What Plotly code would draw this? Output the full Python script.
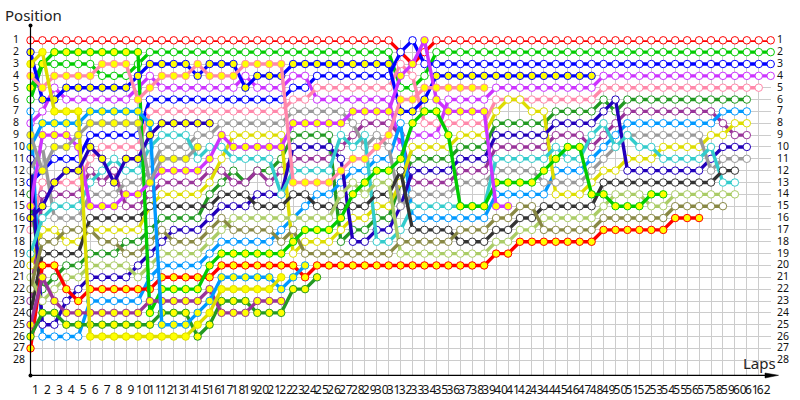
import plotly.graph_objects as go

# ---------- data: position per lap, index = lap number (0 = grid) ----------
rows = list(range(1, 29))
lap_labels = list(range(1, 63))
laps_all = list(range(0, 63))

red_w = [1,1,1,1,1,1,1,1,1,1, 1,1,1,1,1,1,1,1,1,1, 1,1,1,1,1,1,1,1,1,1, 1,2,3,2,1,1,1,1,1,1, 1,1,1,1,1,1,1,1,1,1, 1,1,1,1,1,1,1,1,1,1, 1,1,1]
green_w = [6,3,3,3,3,3,4,4,4,3, 2,2,2,2,2,2,2,2,2,2, 2,2,2,2,2,2,2,2,2,2, 2,5,5,4,2,2,2,2,2,2, 2,2,2,2,2,2,2,2,2,2, 2,2,2,2,2,2,2,2,2,2, 2,2,2]
blue_w = [13,12,11,11,11,9,9,9,9,9, 6,6,6,6,6,6,6,6,6,6, 6,6,5,5,4,4,4,4,4,4, 4,2,1,3,3,3,3,3,3,3, 3,3,3,3,3,3,3,3,3,3, 3,3,3,3,3,3,3,3,3,3, 3,3,3]
violet_w = [8,7,5,6,6,6,6,6,6,5, 4,5,5,5,5,5,5,5,4,5, 5,5,4,4,6,6,6,6,6,6, 6,10,9,9,9,6,6,6,6,5, 5,5,5,5,5,5,5,5,4,4, 4,4,4,4,4,4,4,4,4,4, 4,4,4]
pink_w = [17,13,13,13,13,11,10,10,10,10, 7,7,7,7,7,7,7,7,7,7, 7,7,6,6,5,5,5,5,5,5, 5,3,4,8,8,8,8,8,8,6, 6,6,6,6,6,6,6,6,5,5, 5,5,5,5,5,5,5,5,5,5, 5,5]
dkgreen_w = [14,22,21,20,20,19,19,19,18,18, 17,16,16,16,16,14,13,12,13,12, 12,11,9,9,9,9,18,17,17,16, 16,13,11,11,11,11,10,10,10,8, 8,8,8,8,7,7,7,7,6,7, 6,6,6,6,6,6,6,6,6,6, 6]
purple_w = [23,14,14,14,14,12,13,12,15,15, 14,13,13,13,13,12,12,13,13,12, 13,12,11,11,11,11,10,9,8,8, 8,9,13,13,13,13,12,12,12,10, 10,10,10,10,9,9,9,10,9,8, 7,7,7,7,7,7,7,7,8,9, 9]
azure_w = [7,26,26,26,26,23,23,23,23,23, 21,20,20,20,20,19,18,18,18,18, 18,17,16,15,14,14,13,12,12,11, 11,8,16,16,16,16,16,16,16,14, 14,14,14,14,12,12,12,11,10,9, 8,8,8,8,8,8,8,8,7,7, 7]
yellow_w = [20,17,17,18,18,17,17,17,17,17, 15,14,14,14,14,13,11,9,9,9, 9,9,19,18,18,18,17,16,16,15, 15,13,10,10,10,10,9,9,9,7, 6,6,7,7,14,14,14,13,12,12, 11,11,11,10,10,10,10,9,9,8, 8]
dkblue_w = [11,25,25,23,22,21,21,21,21,20, 19,18,17,17,17,16,15,15,15,14, 14,14,10,10,10,10,11,18,18,17, 17,15,12,12,12,12,11,11,11,9, 9,9,9,9,8,8,8,8,7,6, 12,12,12,12,12,12,12,11,10,10, 10]
gray_w = [12,10,16,16,16,14,14,14,13,13, 12,10,10,10,9,9,8,8,8,8, 8,8,7,7,7,7,7,8,10,9, 10,15,14,14,14,14,13,13,13,12, 12,12,12,13,13,13,13,12,11,10, 9,9,9,9,9,9,9,12,11,11, 11]
cyan_w = [19,16,15,15,15,13,12,11,12,12, 10,9,9,9,11,10,10,11,11,11, 11,14,12,12,12,12,9,10,9,18, 18,17,15,15,15,15,15,15,15,11, 11,11,11,11,10,11,11,9,8,10, 9,10,10,11,11,11,11,10,13,13]
black_w = [24,19,19,19,19,16,16,16,16,16, 15,15,15,15,15,15,14,14,14,15, 15,15,14,14,15,15,15,15,15,14, 14,12,17,17,17,17,18,18,18,17, 17,16,16,15,15,15,15,15,13,13, 13,13,13,13,13,13,13,13,12,12]
ltolive_w = [21,23,22,21,21,20,20,20,20,21, 20,19,19,19,19,18,17,16,16,16, 16,16,16,16,16,16,14,13,14,13, 13,19,19,19,19,19,19,19,19,18, 18,17,17,16,16,16,16,16,15,14, 14,14,15,15,14,14,14,14,14,14]
olive_w = [22,18,18,17,17,17,18,18,19,19, 18,17,18,18,18,17,16,17,17,17, 17,18,17,19,19,19,19,19,19,19, 19,18,18,18,18,18,17,17,17,16, 16,15,15,17,17,17,17,17,16,16, 16,16,16,16,15,15,15,15,15]

red_y = [27,20,20,22,23,22,22,22,22,22, 22,21,21,21,21,21,20,20,20,20, 20,20,20,21,20,20,20,20,20,20, 20,20,20,20,20,20,20,20,20,19, 19,18,18,18,18,18,18,18,17,17, 17,17,17,17,16,16,16]
green_y = [5,3,2,2,2,2,2,2,2,2, 24,22,22,22,22,20,19,19,19,19, 19,19,18,17,17,17,16,14,13,12, 12,11,8,7,7,9,15,15,15,13, 13,13,13,12,11,10,10,14,14,15, 15,15,14,14]
blue_y = [2,6,6,5,5,5,5,5,5,4, 3,3,3,3,4,3,3,3,5,4, 4,4,3,3,3,3,3,3,3,3, 3,7,7,6,4,4,4,4,4,4, 4,4,4,4,4,4,4,4]
violet_y = [15,9,9,9,10,15,15,15,14,14, 13,12,12,12,12,11,9,10,10,10, 10,10,8,8,8,8,8,7,7,7, 7,4,3,1,6,7,7,7,7,15, 15]
pink_y = [4,5,4,4,4,4,3,3,3,6, 5,4,4,4,3,4,4,4,3,3, 3,3,13,13,13,13,12,11,11,10, 9,6,6,5,5,5,5,5,5]
dkgreen_y = [26,24,24,25,25,25,25,25,25,25, 25,24,24,24,26,25,23,23,23,24, 24,24,22,22,21]
purple_y = [25,21,23,24,24,24,24,24,24,24, 23,23,23,23,23,22,24,24,24,23, 23,23]
azure_y = [10,8,8,8,8,7,7,7,7,7, 8,25,25,25,24,23,21,21,21,21, 21,22,21,20]
yellow_y = [3,2,7,7,7,26,26,26,26,26, 26,26,26,26,25,24,22,22,22,22, 22,21]
dkblue_y = [16,15,13,12,12,10,11,13,11,11, 9,8,8,8,8,8]
gray_y = [9,12,10,10,9,8,8,8,8,8, 13,11,11,11,10]

# ---------- styles ----------
RED, GREEN, BLUE, VIOLET, PINK = "#ff0000", "#00cc00", "#0000ff", "#cc33ff", "#ff88aa"
DKGREEN, PURPLE, AZURE, YELLOW, DKBLUE = "#229922", "#993399", "#0099ff", "#dddd00", "#2200bb"
GRAY, CYAN, BLACK, LTOLIVE, OLIVE = "#999999", "#33cccc", "#333333", "#aacc66", "#888844"
GRID = "#cccccc"
FONT = "Noto Sans"

series = [
    (red_w, RED, "white"), (green_w, GREEN, "white"), (blue_w, BLUE, "white"),
    (violet_w, VIOLET, "white"), (pink_w, PINK, "white"), (dkgreen_w, DKGREEN, "white"),
    (purple_w, PURPLE, "white"), (azure_w, AZURE, "white"), (yellow_w, YELLOW, "white"),
    (dkblue_w, DKBLUE, "white"), (gray_w, GRAY, "white"), (cyan_w, CYAN, "white"),
    (black_w, BLACK, "white"), (ltolive_w, LTOLIVE, "white"), (olive_w, OLIVE, "white"),
    (red_y, RED, "#ffff00"), (green_y, GREEN, "#ffff00"), (blue_y, BLUE, "#ffff00"),
    (violet_y, VIOLET, "#ffff00"), (pink_y, PINK, "#ffff00"), (dkgreen_y, DKGREEN, "#ffff00"),
    (purple_y, PURPLE, "#ffff00"), (azure_y, AZURE, "#ffff00"), (yellow_y, YELLOW, "#ffff00"),
    (dkblue_y, DKBLUE, "#ffff00"), (gray_y, GRAY, "#ffff00"),
]

fig = go.Figure()
for values, color, fill in series:
    fig.add_trace(go.Scatter(
        x=laps_all[:len(values)], y=values, mode="lines+markers", cliponaxis=False,
        line=dict(color=color, width=3.4),
        marker=dict(symbol="circle", size=7.5, color=fill, line=dict(color=color, width=1)),
        showlegend=False,
    ))

W, H = 800.0, 400.0
X0, X1 = 30.5, 770.7
Y_TOP, Y_BOT = 40.3, 375.3
annotations = [
    dict(x=10.5 / W, y=1 - (39.3 + 11.85 * (r - 1)) / H, xref="paper", yref="paper",
         text=str(r), showarrow=False, xanchor="left", yanchor="middle",
         font=dict(family=FONT, size=10.5, color="#111111")) for r in rows
] + [
    dict(x=774.5 / W, y=1 - (39.3 + 11.85 * (r - 1)) / H, xref="paper", yref="paper",
         text=str(r), showarrow=False, xanchor="left", yanchor="middle",
         font=dict(family=FONT, size=10.5, color="#111111")) for r in rows
] + [
    dict(x=3 / W, y=1 - 15 / H, xref="paper", yref="paper", text="Position", showarrow=False,
         xanchor="left", yanchor="middle", font=dict(family=FONT, size=15, color="#222222")),
    dict(x=741 / W, y=1 - 363 / H, xref="paper", yref="paper", text="Laps", showarrow=False,
         xanchor="left", yanchor="middle", font=dict(family=FONT, size=15, color="#222222")),
]

def px(x):
    return x / W

def py(y):
    return 1 - y / H

shapes = [
    dict(type="line", xref="paper", yref="paper", x0=px(X0), x1=px(X0), y0=py(25.5), y1=py(Y_BOT),
         line=dict(color="black", width=1.2)),
    dict(type="line", xref="paper", yref="paper", x0=px(X0), x1=px(770), y0=py(Y_BOT), y1=py(Y_BOT),
         line=dict(color="black", width=1.2)),
    dict(type="path", xref="paper", yref="paper", fillcolor="black", line=dict(color="black", width=0.5),
         path=f"M {px(765)} {py(373)} L {px(778.5)} {py(375.3)} L {px(765)} {py(378)} Z"),
    dict(type="circle", xref="paper", yref="paper", fillcolor="black", line=dict(color="black", width=0),
         x0=px(28.5), x1=px(32.5), y0=py(23.5), y1=py(27.5)),
    dict(type="circle", xref="paper", yref="paper", fillcolor="black", line=dict(color="black", width=0),
         x0=px(28.5), x1=px(32.5), y0=py(373.5), y1=py(377.5)),
]

fig.update_layout(
    width=800, height=400, autosize=False,
    margin=dict(l=0, r=0, t=0, b=0, pad=0),
    paper_bgcolor="white", plot_bgcolor="white",
    xaxis=dict(
        domain=[X0 / W, X1 / W], range=[0, 62], showline=False, zeroline=False, showgrid=True,
        gridcolor=GRID, gridwidth=1, tickmode="array", tickvals=lap_labels,
        ticktext=[str(v) for v in lap_labels], tickangle=0, ticks="",
        ticklabelshift=-7, ticklabelstandoff=6,
        tickfont=dict(family=FONT, size=12, color="#111111"), automargin=False,
    ),
    yaxis=dict(
        domain=[1 - Y_BOT / H, 1 - Y_TOP / H], range=[1 + (Y_BOT - Y_TOP) / 11.85, 1], showline=False,
        zeroline=False, showgrid=True, gridcolor=GRID, gridwidth=1, tickmode="array", tickvals=rows,
        showticklabels=False, ticks="", automargin=False,
    ),
    annotations=annotations, shapes=shapes,
)

fig.write_html("out.html", post_script="document.body.style.margin='0';",
               config={"displayModeBar": False})
